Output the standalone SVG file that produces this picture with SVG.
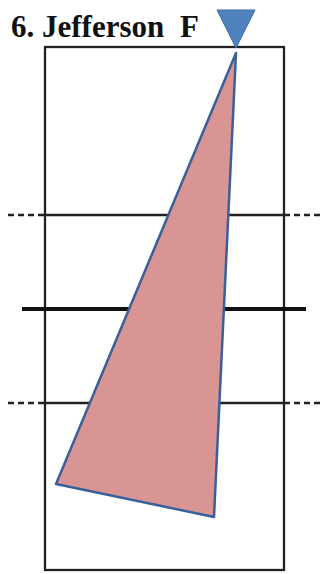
<svg xmlns="http://www.w3.org/2000/svg" width="321" height="574" viewBox="0 0 321 574">
<style>
.ln{stroke:#222;stroke-width:2.3;fill:none}
.dash{stroke:#222;stroke-width:2.3;stroke-dasharray:6,4;fill:none}
.title{font-family:"Liberation Serif","DejaVu Serif",serif;font-weight:bold;font-size:31px;fill:#111}
</style>
<rect width="321" height="574" fill="#fff"/>
<g id="court">
<rect x="45" y="47" width="239" height="523" class="ln" stroke-width="2.5"/>
<line x1="45" y1="215" x2="284" y2="215" class="ln"/>
<line x1="8" y1="215" x2="45" y2="215" class="dash"/>
<line x1="284" y1="215" x2="320" y2="215" class="dash"/>
<line x1="45" y1="403" x2="284" y2="403" class="ln"/>
<line x1="8" y1="403" x2="45" y2="403" class="dash"/>
<line x1="284" y1="403" x2="320" y2="403" class="dash"/>
<line x1="22" y1="309" x2="306" y2="309" stroke="#111" stroke-width="4"/>
</g>
<g id="zone">
<polygon points="236,53 56,484 214,517" fill="#d99594" stroke="#3a5f9a" stroke-width="2.5" stroke-linejoin="round"/>
</g>
<g id="player">
<polygon points="217,10 255,10 236,48" fill="#4f81bd" stroke="#3a6aa0" stroke-width="1"/>
</g>
<g id="label">
<text x="11" y="37" class="title">6. Jefferson</text>
<text x="180" y="37" class="title">F</text>
</g>
</svg>
